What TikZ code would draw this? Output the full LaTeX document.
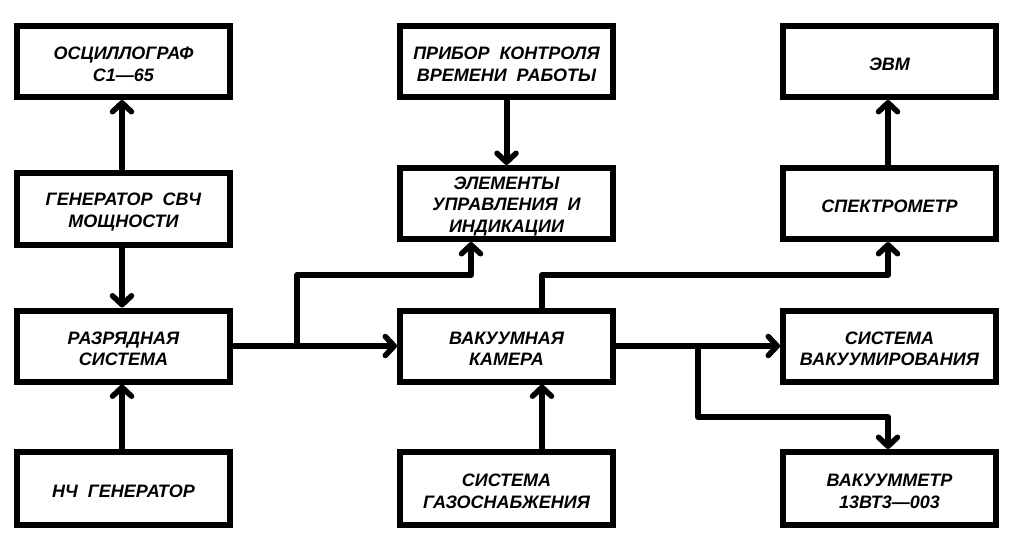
\documentclass[tikz,border=0pt]{standalone}
\usepackage{fontspec}
\setmainfont{Liberation Sans}
\usetikzlibrary{arrows.meta}
\newcommand{\wgap}{\hspace{0.55em}}
\begin{document}
\begin{tikzpicture}[x=1pt,y=-1pt,
  txt/.style={align=center,inner sep=0pt,yshift=-3pt,font=\fontsize{18}{21.5}\selectfont\bfseries\itshape},
  box/.style={draw,line width=6pt,minimum width=213pt,minimum height=71pt,inner sep=0pt,
    label={[txt]center:{#1}}},
  wire/.style={line width=6pt,line join=round},
  arr/.style={wire,-{Straight Barb[length=9pt,width=19pt,line width=5.5pt,line join=round,line cap=round]}}]
\useasboundingbox (0,0) rectangle (1010,535);
% column 1
\node[box={ОСЦИЛЛОГРАФ\\С1—65}] (osc) at (123.5,61.5) {};
\node[box={ГЕНЕРАТОР\wgap СВЧ\\МОЩНОСТИ},minimum height=72pt] (gen) at (123.5,209) {};
\node[box={РАЗРЯДНАЯ\\СИСТЕМА}] (raz) at (123.5,346) {};
\node[box={НЧ\wgap ГЕНЕРАТОР},minimum height=73pt] (nch) at (123.5,488.5) {};
% column 2
\node[box={ПРИБОР\wgap КОНТРОЛЯ\\ВРЕМЕНИ\wgap РАБОТЫ}] (pri) at (506.5,61.5) {};
\node[box={\fontsize{18}{20}\selectfont ЭЛЕМЕНТЫ\\УПРАВЛЕНИЯ\wgap И\\ИНДИКАЦИИ}] (ele) at (506.5,203.5) {};
\node[box={ВАКУУМНАЯ\\КАМЕРА}] (vak) at (506.5,346) {};
\node[box={СИСТЕМА\\ГАЗОСНАБЖЕНИЯ},minimum height=73pt] (gaz) at (506.5,488.5) {};
% column 3
\node[box={ЭВМ}] (evm) at (889.5,61.5) {};
\node[box={СПЕКТРОМЕТР}] (spe) at (889.5,203.5) {};
\node[box={СИСТЕМА\\ВАКУУМИРОВАНИЯ}] (svk) at (889.5,346) {};
\node[box={ВАКУУММЕТР\\13ВТ3—003},minimum height=73pt] (vmt) at (889.5,488.5) {};
% helper coordinates
\coordinate (j1) at (297,346);
\coordinate (c1) at (471,275);
\coordinate (c2) at (542,275);
\coordinate (j2) at (698,346);
\coordinate (c3) at (888,417);
% connectors
\draw[arr] ([xshift=-1.5pt]gen.north) -- ([xshift=-1.5pt]osc.south);
\draw[arr] ([xshift=-1.5pt]gen.south) -- ([xshift=-1.5pt]raz.north);
\draw[arr] ([xshift=-1.5pt]nch.north) -- ([xshift=-1.5pt]raz.south);
\draw[arr] (raz.east) -- (vak.west);
\draw[arr] (j1) |- (c1) -- (c1 |- ele.south);
\draw[arr] (pri.south) -- (ele.north);
\draw[arr] (c2 |- vak.north) -- (c2) -| (spe.south -| c3);
\draw[arr] (spe.north -| c3) -- (evm.south -| c3);
\draw[arr] (gaz.north -| c2) -- (vak.south -| c2);
\draw[arr] (vak.east) -- (svk.west);
\draw[arr] (j2) |- (c3) -- (c3 |- vmt.north);
\end{tikzpicture}
\end{document}
